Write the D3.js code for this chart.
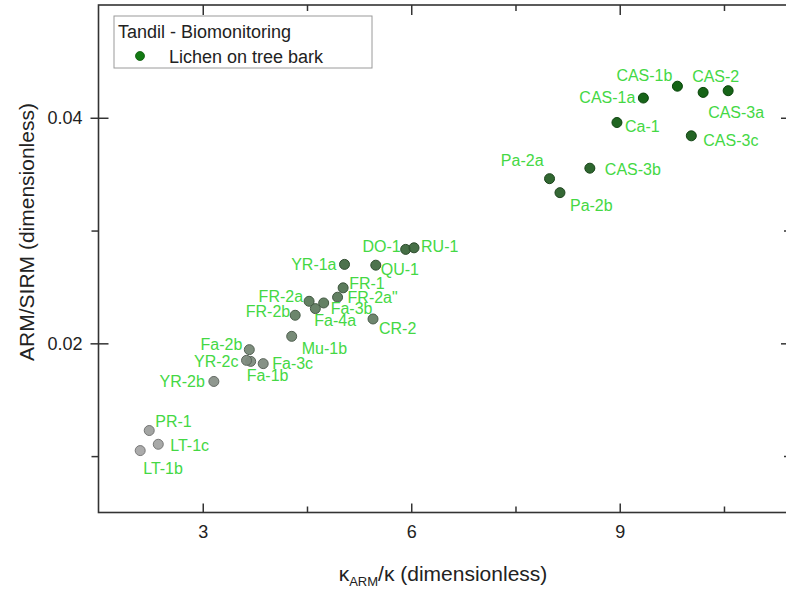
<!DOCTYPE html>
<html>
<head>
<meta charset="utf-8">
<script src="https://cdn.jsdelivr.net/npm/d3@7"></script>
<style>
  html, body { margin: 0; padding: 0; background: #fff; }
  svg { display: block; font-family: Arial, "Liberation Sans", Helvetica, sans-serif; }
</style>
</head>
<body>
<svg id="chart" width="786" height="590"></svg>
<script>
// ---------------- data ----------------
const sites = ["CAS-1b","CAS-2","CAS-3a","CAS-1a","Ca-1","CAS-3c","CAS-3b","Pa-2a","Pa-2b",
  "DO-1","RU-1","YR-1a","QU-1","FR-1","FR-2a\"","FR-2a","Fa-3b","Fa-4a","FR-2b","CR-2","Mu-1b",
  "Fa-2b","YR-2c","Fa-1b","Fa-3c","YR-2b","PR-1","LT-1c","LT-1b"];
const kArmK = [9.83,10.20,10.56,9.34,8.96,10.03,8.57,7.99,8.14,
  5.92,6.04,5.04,5.49,5.02,4.94,4.53,4.74,4.62,4.33,5.45,4.28,
  3.67,3.63,3.69,3.87,3.16,2.23,2.36,2.10];
const armSirm = [0.0428,0.04225,0.0424,0.04175,0.03958,0.0384,0.03553,0.0346,0.03336,
  0.02833,0.02847,0.0270,0.02693,0.02492,0.02409,0.02373,0.02358,0.02308,0.02249,0.02216,0.02062,
  0.01944,0.01849,0.0184,0.0182,0.01662,0.01227,0.01105,0.01049];
const xMajorTicks = [3, 6, 9];
const xMinorTicks = [4.5, 7.5, 10.5];
const yMajorTicks = [0.02, 0.04];
const yMinorTicks = [0.01, 0.03];
const legendTitle = "Tandil - Biomonitoring";
const seriesName = "Lichen on tree bark";

// ---------------- layout (label placement, not data) ----------------
const labelLayout = {
  "CAS-1b":["end",-5,-11], "CAS-2":["start",-11,-16], "CAS-3a":["start",-20,22],
  "CAS-1a":["end",-8,-1], "Ca-1":["start",8,4], "CAS-3c":["start",12,4],
  "CAS-3b":["start",15,1], "Pa-2a":["end",-6,-18], "Pa-2b":["start",10,13],
  "DO-1":["end",-5,-3], "RU-1":["start",7,-2], "YR-1a":["end",-8,0],
  "QU-1":["start",5,4], "FR-1":["start",6,-5], "FR-2a\"":["start",10,0],
  "FR-2a":["end",-6,-5], "Fa-3b":["start",7,5], "Fa-4a":["start",-1,12],
  "FR-2b":["end",-5,-4], "CR-2":["start",6,9], "Mu-1b":["start",10,12],
  "Fa-2b":["end",-7,-5], "YR-2c":["end",-8,1], "Fa-1b":["start",-4,14],
  "Fa-3c":["start",9,0], "YR-2b":["end",-9,0], "PR-1":["start",6,-9],
  "LT-1c":["start",12,1], "LT-1b":["start",3,18]
};

const points = sites.map((s, i) => ({ name: s, x: kArmK[i], y: armSirm[i] }));

const svg = d3.select("#chart");
const X0 = 98.5, X1 = 790, Y0 = 512.5, Y1 = 5;
const x = d3.scaleLinear().domain([1.5, 11.45]).range([X0, X1]);
const y = d3.scaleLinear().domain([0.005, 0.05]).range([Y0, Y1]);

const color = d3.scaleLinear()
  .domain([0.0105, 0.017, 0.0225, 0.0275, 0.034, 0.042])
  .range(["#a6a6a6", "#879087", "#647f64", "#3f683f", "#285f28", "#0a5c0c"]);

const axisColor = "#333";

// frame
svg.append("rect")
  .attr("x", X0).attr("y", Y1).attr("width", X1 - X0).attr("height", Y0 - Y1)
  .attr("fill", "none").attr("stroke", axisColor).attr("stroke-width", 1.6);

function styleAxis(g) {
  g.select(".domain").remove();
  g.selectAll(".tick line").attr("stroke", axisColor).attr("stroke-width", 1.5);
  g.selectAll("text").attr("fill", "#222").style("font-size", "18px");
}

// bottom
svg.append("g").attr("transform", `translate(0,${Y0})`)
  .call(d3.axisBottom(x).tickValues(xMajorTicks).tickSize(-9).tickPadding(13).tickFormat(d3.format("d")))
  .call(styleAxis);
svg.append("g").attr("transform", `translate(0,${Y0})`)
  .call(d3.axisBottom(x).tickValues(xMinorTicks).tickSize(-6).tickFormat(""))
  .call(styleAxis);
// top
svg.append("g").attr("transform", `translate(0,${Y1})`)
  .call(d3.axisTop(x).tickValues(xMajorTicks).tickSize(-10).tickFormat(""))
  .call(styleAxis);
svg.append("g").attr("transform", `translate(0,${Y1})`)
  .call(d3.axisTop(x).tickValues(xMinorTicks).tickSize(-6).tickFormat(""))
  .call(styleAxis);
// left
const leftMajor = svg.append("g").attr("transform", `translate(${X0},0)`)
  .call(d3.axisLeft(y).tickValues(yMajorTicks).tickSize(8).tickPadding(8).tickFormat(d3.format(".2f")))
  .call(styleAxis);
leftMajor.selectAll(".tick").append("line")
  .attr("x1", 0).attr("x2", 10).attr("stroke", axisColor).attr("stroke-width", 1.5);
svg.append("g").attr("transform", `translate(${X0},0)`)
  .call(d3.axisLeft(y).tickValues(yMinorTicks).tickSize(7).tickFormat(""))
  .call(styleAxis);
// right (mostly outside the visible area)
svg.append("g").attr("transform", `translate(${X1},0)`)
  .call(d3.axisRight(y).tickValues(yMajorTicks).tickSize(-9).tickFormat(""))
  .call(styleAxis);
svg.append("g").attr("transform", `translate(${X1},0)`)
  .call(d3.axisRight(y).tickValues(yMinorTicks).tickSize(-6).tickFormat(""))
  .call(styleAxis);

// axis titles
svg.append("text")
  .attr("transform", "translate(34,232) rotate(-90)")
  .attr("text-anchor", "middle")
  .style("font-size", "21px").attr("fill", "#222")
  .text("ARM/SIRM (dimensionless)");

const xt = svg.append("text")
  .attr("x", 443).attr("y", 581)
  .attr("text-anchor", "middle")
  .style("font-size", "21px").attr("fill", "#222");
xt.append("tspan").text("\u03BA");
xt.append("tspan").attr("dy", 5).style("font-size", "13px").text("ARM");
xt.append("tspan").attr("dy", -5).text("/\u03BA (dimensionless)");

// points (sorted so darker ones on top)
const pts = svg.append("g");
pts.selectAll("circle")
  .data(points.slice().sort((a, b) => a.y - b.y))
  .join("circle")
  .attr("cx", d => x(d.x))
  .attr("cy", d => y(d.y))
  .attr("r", 5)
  .attr("fill", d => color(d.y))
  .attr("stroke", d => d3.color(color(d.y)).darker(0.9))
  .attr("stroke-width", 1)
  .attr("fill-opacity", 0.95);

// labels
svg.append("g").selectAll("text")
  .data(points)
  .join("text")
  .attr("x", d => x(d.x) + labelLayout[d.name][1])
  .attr("y", d => y(d.y) + labelLayout[d.name][2])
  .attr("dy", "0.36em")
  .attr("text-anchor", d => labelLayout[d.name][0])
  .style("font-size", "16px")
  .attr("fill", "#44d844")
  .text(d => d.name);

// legend
const lg = svg.append("g");
lg.append("rect").attr("x", 114).attr("y", 16).attr("width", 258).attr("height", 52)
  .attr("fill", "#fff").attr("stroke", "#9a9a9a").attr("stroke-width", 1);
lg.append("text").attr("x", 118).attr("y", 38).style("font-size", "18px").attr("fill", "#222")
  .text(legendTitle);
lg.append("circle").attr("cx", 140).attr("cy", 56).attr("r", 4.5)
  .attr("fill", "#137a13").attr("stroke", "#0b5a0b").attr("stroke-width", 0.8);
lg.append("text").attr("x", 169).attr("y", 63).style("font-size", "18px").attr("fill", "#222")
  .text(seriesName);
</script>
</body>
</html>
